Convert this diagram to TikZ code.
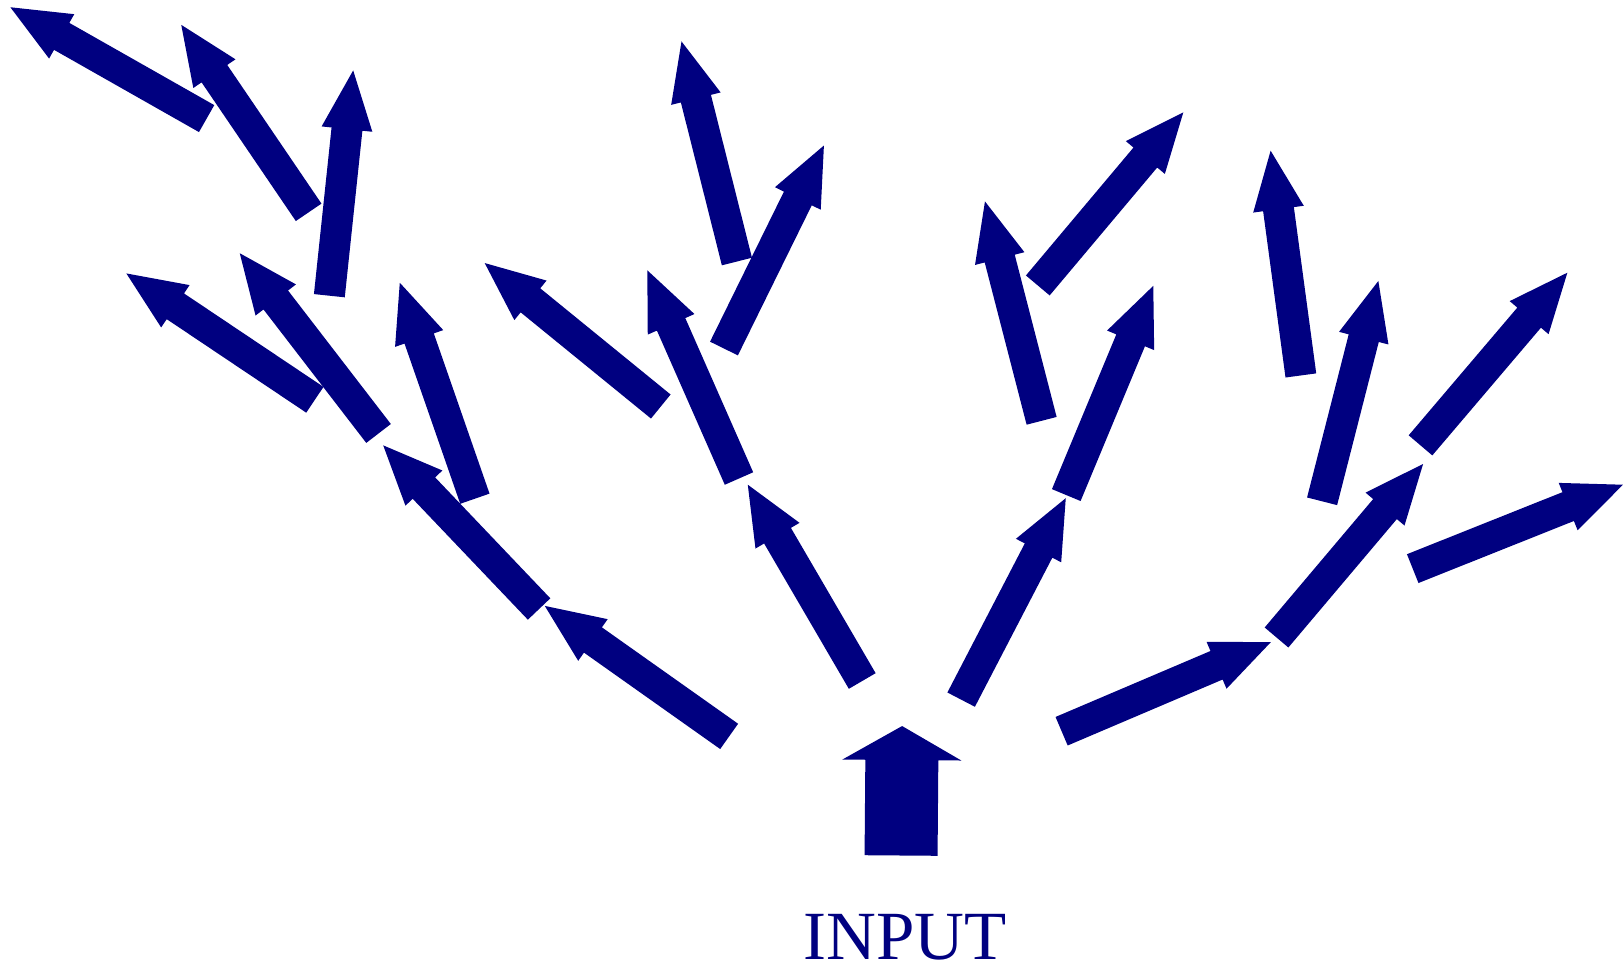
\documentclass[tikz,border=0pt]{standalone}
\usepackage{fontspec}
\setmainfont{Liberation Serif}
\usetikzlibrary{calc}
\definecolor{navyblue}{HTML}{000080}
% #1 tail, #2 tip, #3 shaft half width, #4 head half width, #5 head length
\newcommand\blockarrow[5]{%
  \path ($(#2)!#5!(#1)$) coordinate (hb);
  \fill[navyblue]
    ($(#1)!#3!90:(#2)$) -- ($(hb)!#3!90:(#2)$) -- ($(hb)!#4!90:(#2)$) --
    (#2) --
    ($(hb)!#4!-90:(#2)$) -- ($(hb)!#3!-90:(#2)$) -- ($(#1)!#3!-90:(#2)$) -- cycle;
}
\newcommand\smallarrow[2]{\blockarrow{#1}{#2}{15.5pt}{25.5pt}{59pt}}
\begin{document}
\begin{tikzpicture}[x=1.03571pt,y=-1.03571pt]
\useasboundingbox (0,0) rectangle (1568,938.48);
% tails (t) and tips (p)
\coordinate (t1) at (199.5,114.5);  \coordinate (p1) at (10,7);
\coordinate (t2) at (298,205);      \coordinate (p2) at (175,24);
\coordinate (t3) at (318,285.5);    \coordinate (p3) at (341,68);
\coordinate (t4) at (304,386);      \coordinate (p4) at (122,264);
\coordinate (t5) at (365.5,418.5);  \coordinate (p5) at (231.5,244.5);
\coordinate (t6) at (458.5,481.5);  \coordinate (p6) at (386,273);
\coordinate (t7) at (520.5,588);    \coordinate (p7) at (370,430);
\coordinate (t8) at (704,711);      \coordinate (p8) at (526,585);
\coordinate (t9) at (638,392.5);    \coordinate (p9) at (468,254);
\coordinate (t10) at (713.5,462);   \coordinate (p10) at (625,261);
\coordinate (t11) at (711.5,252.5); \coordinate (p11) at (658,40);
\coordinate (t12) at (699,336.5);   \coordinate (p12) at (795.5,140.5);
\coordinate (t13) at (832.5,657.5); \coordinate (p13) at (722,468);
\coordinate (t15) at (928,675.5);   \coordinate (p15) at (1029,481);
\coordinate (t16) at (1025,706);    \coordinate (p16) at (1227,620);
\coordinate (t17) at (1002,275.6);  \coordinate (p17) at (1142.5,108.5);
\coordinate (t18) at (1005.7,406.3);\coordinate (p18) at (951,194.5);
\coordinate (t19) at (1029.5,478);  \coordinate (p19) at (1113.5,276);
\coordinate (t20) at (1256,362.5);  \coordinate (p20) at (1226.8,145.5);
\coordinate (t21) at (1232.5,615.5);\coordinate (p21) at (1374,448);
\coordinate (t22) at (1276.5,484);  \coordinate (p22) at (1330.8,271.3);
\coordinate (t23) at (1371.5,430);  \coordinate (p23) at (1513.3,263.3);
\coordinate (t24) at (1364,549);    \coordinate (p24) at (1567,468);
\foreach \i in {1,...,13,15,16,...,24}{\smallarrow{t\i}{p\i}}
% input arrow
\coordinate (tin) at (870,826); \coordinate (pin) at (871,701);
\blockarrow{tin}{pin}{36.5pt}{59.5pt}{34pt}
\node[anchor=base,text=navyblue,font=\fontsize{69}{69}\selectfont,inner sep=0pt] (input) at (874,926.5) {INPUT};
\end{tikzpicture}
\end{document}
